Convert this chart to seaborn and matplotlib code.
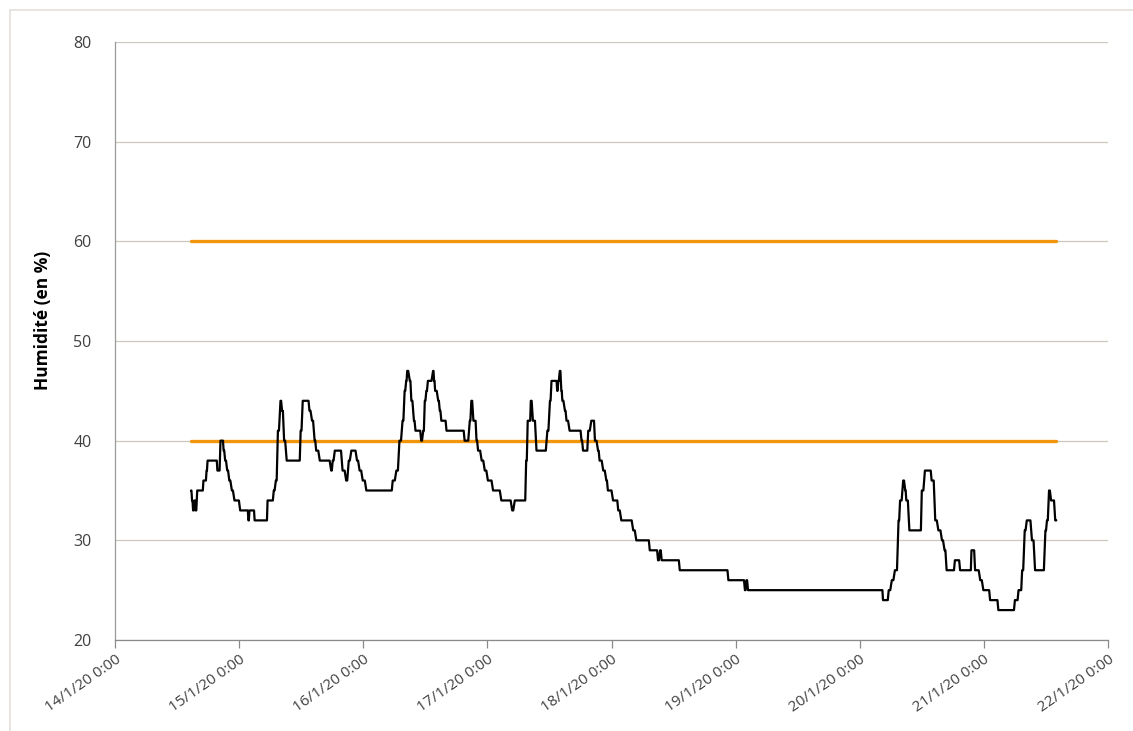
import pandas as pd
import numpy as np
import matplotlib
matplotlib.use('Agg')
import matplotlib.pyplot as plt
import matplotlib.dates as mdates
from matplotlib.ticker import FuncFormatter
import seaborn as sns

# heures depuis le 14/1/20 0:00 et humidite relevee (en %)
heures = [14.7, 14.9, 15.1, 15.4, 15.6, 15.9, 16.9, 17.1, 17.5, 17.7, 17.9, 19.6, 19.8, 20.1,
          20.4, 20.8, 21.0, 21.3, 21.7, 22.1, 22.6, 23.1, 23.8, 24.2, 25.6, 25.8, 26.0, 26.8,
          27.0, 29.3, 29.5, 30.4, 30.7, 31.1, 31.5, 32.0, 32.3, 32.7, 33.2, 35.6, 35.9, 36.3,
          37.3, 37.6, 38.1, 38.6, 38.9, 39.6, 41.2, 41.8, 42.1, 42.5, 43.4, 44.0, 44.7, 45.2,
          45.7, 46.3, 46.8, 47.3, 47.9, 48.6, 53.4, 53.7, 54.4, 55.0, 55.6, 56.0, 56.3, 56.5,
          57.0, 57.3, 57.8, 58.1, 58.9, 59.2, 59.6, 59.9, 60.2, 60.5, 61.0, 61.5, 61.7, 61.9,
          62.5, 62.8, 63.1, 63.8, 64.1, 67.3, 67.6, 68.1, 68.6, 68.9, 69.3, 69.6, 69.9, 70.2,
          70.9, 71.5, 72.1, 73.1, 74.7, 76.3, 76.8, 77.3, 79.2, 79.5, 79.8, 80.2, 80.4, 80.8,
          81.5, 83.1, 83.6, 84.1, 84.4, 85.3, 85.5, 85.7, 86.0, 86.3, 86.5, 87.0, 87.3, 87.9,
          89.9, 90.2, 90.5, 91.2, 91.5, 92.1, 92.5, 92.8, 93.4, 93.7, 94.4, 95.0, 95.3, 95.6,
          96.3, 97.0, 97.3, 97.9, 99.2, 100.2, 100.8, 103.1, 103.4, 104.7, 105.0, 105.4, 105.7,
          108.9, 109.2, 118.3, 118.6, 121.5, 121.8, 122.1, 122.4, 148.3, 148.5, 149.3, 149.6,
          150.2, 150.8, 151.5, 151.8, 152.4, 152.8, 153.0, 153.6, 155.7, 156.0, 156.6, 157.6,
          157.9, 158.6, 159.2, 159.9, 160.4, 160.8, 162.1, 162.4, 163.1, 163.4, 165.4, 165.6,
          166.0, 166.3, 167.3, 167.9, 168.9, 169.2, 170.5, 170.8, 173.7, 174.0, 174.4, 174.7,
          175.1, 175.4, 175.9, 176.3, 176.6, 177.3, 177.9, 179.4, 179.9, 180.2, 180.6, 181.0,
          181.4, 181.8, 182.0]
humidite = [35, 34, 33, 34, 33, 35, 35, 36, 36, 37, 38, 38, 37, 37,
            40, 40, 39, 38, 37, 36, 35, 34, 34, 33, 33, 32, 33, 33,
            32, 32, 34, 34, 35, 36, 41, 44, 43, 40, 38, 38, 41, 44,
            44, 43, 42, 40, 39, 38, 38, 37, 38, 39, 39, 37, 36, 38,
            39, 39, 38, 37, 36, 35, 35, 36, 37, 40, 42, 45, 46, 47,
            46, 44, 42, 41, 41, 40, 41, 44, 45, 46, 46, 47, 46, 45,
            44, 43, 42, 42, 41, 41, 40, 40, 42, 44, 42, 42, 40, 39,
            38, 37, 36, 35, 34, 34, 33, 34, 34, 38, 42, 42, 44, 42,
            39, 39, 41, 44, 46, 46, 45, 46, 47, 45, 44, 43, 42, 41,
            41, 40, 39, 39, 41, 42, 42, 40, 39, 38, 37, 36, 35, 35,
            34, 34, 33, 32, 32, 31, 30, 30, 29, 29, 28, 29, 28,
            28, 27, 27, 26, 26, 25, 26, 25, 25, 24, 24, 25,
            26, 27, 32, 34, 36, 35, 34, 31, 31, 35, 37, 37,
            36, 32, 31, 30, 29, 27, 27, 28, 28, 27, 27, 29,
            29, 27, 26, 25, 25, 24, 24, 23, 23, 24, 24, 25,
            25, 27, 31, 32, 32, 30, 27, 27, 31, 32, 35, 34,
            34, 32, 32]

# seuils
seuil_bas = 40
seuil_haut = 60
debut_mesure = 14.7
fin_mesure = 182.0

origine = pd.Timestamp('2020-01-14 00:00')

# marches d'escalier avec un petit temps de transition entre deux releves
t_trace, h_trace = [heures[0]], [humidite[0]]
for i in range(1, len(heures)):
    dt = min(0.3, 0.6 * (heures[i] - heures[i - 1]))
    t_trace += [heures[i] - dt, heures[i]]
    h_trace += [humidite[i - 1], humidite[i]]

df = pd.DataFrame({'date': origine + pd.to_timedelta(t_trace, unit='h'),
                   'humidite': h_trace})
seuils = pd.DataFrame({'date': origine + pd.to_timedelta([debut_mesure, fin_mesure], unit='h')})

sns.set_style('white')
plt.rcParams['font.family'] = ['Open Sans', 'DejaVu Sans']

fig = plt.figure(figsize=(11.33, 7.31), dpi=100)
ax = fig.add_axes([115 / 1133, 1 - 640 / 731, (1108 - 115) / 1133, (640 - 42) / 731])

for s in [seuil_haut, seuil_bas]:
    sns.lineplot(x=seuils['date'], y=[s, s], color='#F0950C', linewidth=2.4,
                 estimator=None, sort=False, ax=ax)
sns.lineplot(data=df, x='date', y='humidite', color='black', linewidth=1.6,
             estimator=None, sort=False, ax=ax)

ax.set_ylim(20, 80)
ax.set_yticks(range(20, 81, 10))
ax.set_xlim(origine, origine + pd.Timedelta(days=8))
ax.xaxis.set_major_locator(mdates.DayLocator())


def fmt_date(x, pos):
    d = mdates.num2date(x)
    return f'{d.day}/{d.month}/{d:%y} {d.hour}:{d:%M}'


ax.xaxis.set_major_formatter(FuncFormatter(fmt_date))
ax.grid(axis='y', color='#CEC7BE', linewidth=0.9)
ax.grid(axis='x', visible=False)
for side in ['top', 'right']:
    ax.spines[side].set_visible(False)
ax.spines['left'].set_color('#9A9A9A')
ax.spines['bottom'].set_color('#8A8A8A')
ax.spines['left'].set_linewidth(0.9)
ax.spines['bottom'].set_linewidth(0.9)

ax.tick_params(axis='y', length=0, pad=17, labelsize=11.5, labelcolor='#404040')
ax.tick_params(axis='x', length=6, width=0.9, color='#8A8A8A', direction='out',
               bottom=True, pad=3, labelsize=11, labelcolor='#404040')
plt.setp(ax.get_xticklabels(), rotation=35, ha='right', rotation_mode='anchor')

ax.set_xlabel('')
ax.set_ylabel('Humidité (en %)', fontsize=12.5, fontweight='bold', color='black')
ax.yaxis.set_label_coords(-0.063, 0.535)

# cadre du graphique
fig.add_artist(plt.Line2D([10 / 1133, 10 / 1133], [0, 1 - 10 / 731], color='#E4E0DA', lw=1.2))
fig.add_artist(plt.Line2D([10 / 1133, 1], [1 - 10 / 731, 1 - 10 / 731], color='#E4E0DA', lw=1.2))

plt.savefig('out.png', dpi=100)
